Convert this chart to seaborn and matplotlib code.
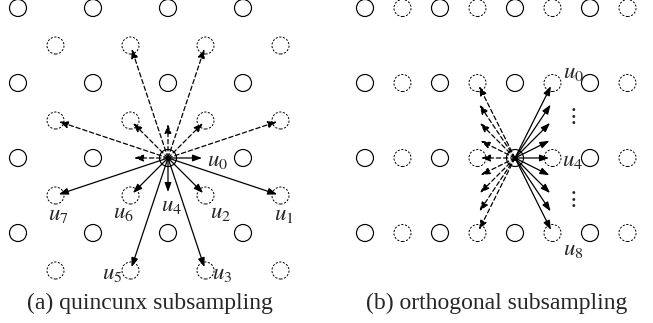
import matplotlib
matplotlib.use("Agg")
import matplotlib.pyplot as plt
import seaborn as sns
import pandas as pd

sns.set_theme(style="white")
plt.rcParams["font.family"] = ["Liberation Serif", "DejaVu Serif"]
plt.rcParams["mathtext.fontset"] = "stix"

# ---------------- data (grid units; one unit = half the lattice spacing) -------------
# panel (a): quincunx lattice
a_solid_cols = [0, 2, 4, 6]
a_solid_rows = [0, 2, 4, 6]
a_dashed_cols = [1, 3, 5, 7]
a_dashed_rows = [1, 3, 5, 7]
a_center = (4, 4)
a_labels = ["$u_0$", "$u_1$", "$u_2$", "$u_3$", "$u_4$", "$u_5$", "$u_6$", "$u_7$"]
a_dx = [1, 3, 1, 1, 0, -1, -1, -3]
a_dy = [0, 1, 1, 3, 1, 3, 1, 1]          # positive = downwards
a_label_x = [5.05, 7.08, 5.40, 5.45, 4.09, 2.50, 2.82, 1.08]
a_label_y = [4.08, 5.50, 5.45, 7.09, 5.27, 7.09, 5.45, 5.52]
a_label_ha = ["left", "center", "center", "center", "center", "center", "center", "center"]
a_caption = "(a) quincunx subsampling"

# panel (b): orthogonal lattice
b_solid_cols = [0, 2, 4, 6]
b_dashed_cols = [1, 3, 5, 7]
b_rows = [0, 2, 4, 6]
b_center = (4, 4)
b_dx = [1, 1, 1, 1, 1, 1, 1, 1, 1]
b_dy = [-2, -1.5, -1, -0.5, 0, 0.5, 1, 1.5, 2]
b_texts = ["$u_0$", r"$\vdots$", "$u_4$", r"$\vdots$", "$u_8$"]
b_text_x = [5.55, 5.52, 5.53, 5.52, 5.55]
b_text_y = [1.72, 2.90, 4.08, 5.12, 6.45]
b_caption = "(b) orthogonal subsampling"

# ---------------- figure -----------------
W, H = 653, 323
fig = plt.figure(figsize=(W / 100, H / 100), dpi=100)
ax_a = fig.add_axes([0, 0, 330 / W, 1])
ax_b = fig.add_axes([330 / W, 0, 323 / W, 1])
ax_a.set_xlim(-0.48, 8.32)
ax_a.set_ylim(8.4, -0.213)
ax_b.set_xlim(-0.933, 7.68)
ax_b.set_ylim(8.4, -0.213)

circ_kw = dict(s=150, color="black", facecolor="none", edgecolor="black", legend=False,
               zorder=1, marker="o")
solid_lw = 0.85
dash_ls = (0, (2.2, 1.6))
label_fs = 16.5
caption_fs = 17


def grid_df(cols, rows):
    return pd.DataFrame([(c, r) for r in rows for c in cols], columns=["x", "y"])


def draw_arrow(ax, start, vec, dashed):
    end = (start[0] + vec[0], start[1] + vec[1])
    ax.annotate("", xy=end, xytext=start,
                arrowprops=dict(arrowstyle="-|>,head_length=0.55,head_width=0.2",
                                lw=0.9, color="black", shrinkA=0, shrinkB=2.5,
                                mutation_scale=10,
                                linestyle=(0, (3.5, 2.2)) if dashed else "-"),
                zorder=3)


# panel (a) circles
sns.scatterplot(data=grid_df(a_solid_cols, a_solid_rows), x="x", y="y", ax=ax_a,
                linewidth=solid_lw, **circ_kw)
sns.scatterplot(data=grid_df(a_dashed_cols, a_dashed_rows), x="x", y="y", ax=ax_a,
                linewidth=0.7, linestyle=dash_ls, **circ_kw)
for dx, dy in zip(a_dx, a_dy):
    draw_arrow(ax_a, a_center, (dx, dy), False)
    draw_arrow(ax_a, a_center, (-dx, -dy), True)
sns.scatterplot(x=[a_center[0]], y=[a_center[1]], ax=ax_a, s=12, color="black",
                edgecolor="black", legend=False, zorder=4)
for t, x, y, ha in zip(a_labels, a_label_x, a_label_y, a_label_ha):
    ax_a.text(x, y, t, ha=ha, va="center", fontsize=label_fs, zorder=5)
ax_a.text(3.52, 7.87, a_caption, ha="center", va="center", fontsize=caption_fs)

# panel (b) circles
sns.scatterplot(data=grid_df(b_solid_cols, b_rows), x="x", y="y", ax=ax_b,
                linewidth=solid_lw, **circ_kw)
sns.scatterplot(data=grid_df(b_dashed_cols, b_rows), x="x", y="y", ax=ax_b,
                linewidth=0.7, linestyle=dash_ls, **circ_kw)
for dx, dy in zip(b_dx, b_dy):
    draw_arrow(ax_b, b_center, (dx, dy), False)
    draw_arrow(ax_b, b_center, (-dx, -dy), True)
sns.scatterplot(x=[b_center[0]], y=[b_center[1]], ax=ax_b, s=12, color="black",
                edgecolor="black", legend=False, zorder=4)
for t, x, y in zip(b_texts, b_text_x, b_text_y):
    ax_b.text(x, y, t, ha="center", va="center", fontsize=label_fs, zorder=5)
ax_b.text(3.52, 7.87, b_caption, ha="center", va="center", fontsize=caption_fs)

for ax in (ax_a, ax_b):
    ax.axis("off")

fig.savefig("out.png", dpi=100)
